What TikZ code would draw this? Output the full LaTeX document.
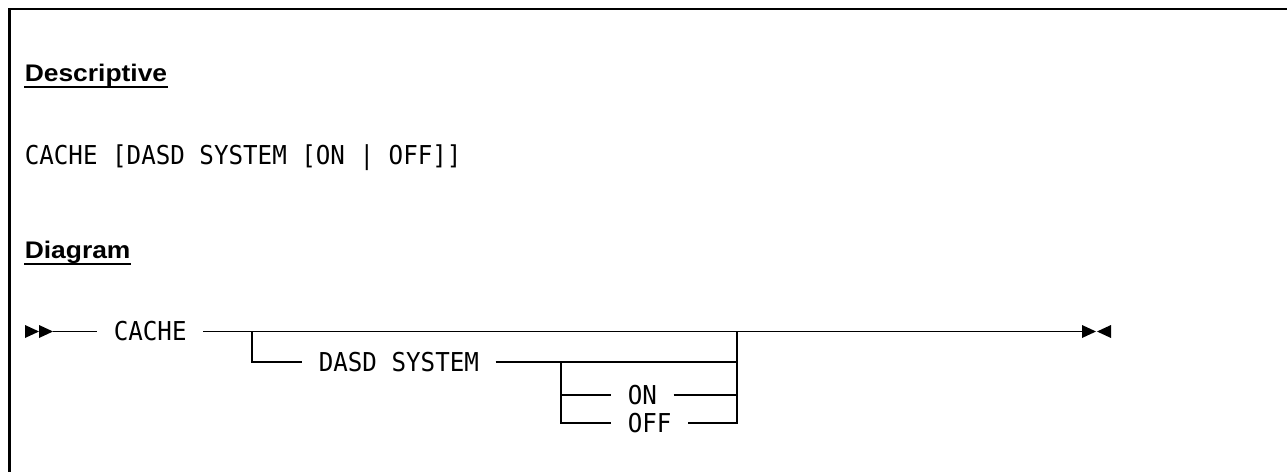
\documentclass[tikz,border=0pt]{standalone}
\usepackage{fontspec}
\setmainfont{Liberation Sans}
\newfontfamily\railfont[FakeStretch=0.93]{DejaVu Sans Mono}
\newfontfamily\headfont[FakeStretch=1.1]{Liberation Sans}
\usetikzlibrary{arrows.meta, positioning}

\begin{document}
\begin{tikzpicture}[
  x=1pt, y=-1pt, line width=1.6pt,
  kw/.style={inner xsep=16pt, inner ysep=0pt, anchor=west, font=\railfont\fontsize{26}{30}\selectfont},
  heading/.style={inner sep=0pt, anchor=base west, font=\headfont\bfseries\fontsize{24}{28}\selectfont},
  tipfill/.style={fill=black, draw=none}
]
\useasboundingbox (0,0) rectangle (1287,471);
% frame, cut off at right and bottom
\draw[line width=2.5pt] (9.5,480) -- (9.5,9) -- (1295,9);

\node[heading] (desc) at (24,81) {Descriptive};
\draw[line width=2pt] ([yshift=-5.5pt]desc.base west) -- ([yshift=-5.5pt]desc.base east);
\node[anchor=base west, inner sep=0pt, font=\railfont\fontsize{26}{30}\selectfont] (syntax) at (24,164) {CACHE [DASD SYSTEM [ON | OFF]]};
\node[heading] (diag) at (24,258) {Diagram};
\draw[line width=2pt] ([yshift=-5.5pt]diag.base west) -- ([yshift=-5.5pt]diag.base east);

% railroad
\coordinate (start) at (25,331.5);
\coordinate (j1) at (252,331.5);
\coordinate (j2) at (561,362);
\coordinate (j3) at (737,331.5);
\coordinate (stop) at (1082,331.5);
\node[kw] (cache) at (97,331.5) {CACHE};
\node[kw] (dasd) at (302,362) {DASD SYSTEM};
\node[kw] (on) at (611,395) {ON};
\node[kw] (off) at (611,423) {OFF};

\foreach \dx in {0,14}
  \fill[tipfill] ([xshift=\dx pt]start) -- ++(0,-6.5) -- ++(14,6.5) -- ++(-14,6.5) -- cycle;
\draw ([xshift=28pt]start) -- (cache.west);
\draw (cache.east) -- (stop);
\draw (j1) |- (dasd.west);
\draw (dasd.east) -| (j3);
\draw (j2) |- (on.west);
\draw (j2) |- (off.west);
\draw (on.east) -| (j3);
\draw (off.east) -| (j3);
\fill[tipfill] (stop) -- ++(0,-6.5) -- ++(14,6.5) -- ++(-14,6.5) -- cycle;
\fill[tipfill] ([xshift=29pt]stop) -- ++(0,-6.5) -- ++(-14,6.5) -- ++(14,6.5) -- cycle;
\end{tikzpicture}
\end{document}
